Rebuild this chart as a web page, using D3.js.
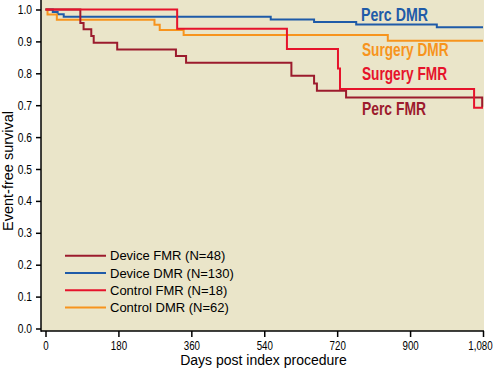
<!DOCTYPE html>
<html>
<head>
<meta charset="utf-8">
<script src="https://cdn.jsdelivr.net/npm/d3@7"></script>
<style>
    body { margin: 0; background: #fff; }
    svg { display: block; }
    .axis text { font-family: "Liberation Sans", Arial, sans-serif; font-size: 12.5px; fill: #000; }
    .axis line { stroke: #000; stroke-width: 1.5px; }
</style>
</head>
<body>
<div id="plot"></div>
<script>
const MAX_DAYS = 1080;

// step points: day of each drop and survival after it
const deviceFmrDays = [0, 86, 94, 113, 119, 177, 322, 347, 607, 663, 670, 742, 1078];
const deviceFmrSurv = [1, 0.958, 0.938, 0.917, 0.896, 0.875, 0.854, 0.833, 0.792, 0.768, 0.745, 0.724, 0.695];

const deviceDmrDays = [0, 18, 30, 45, 556, 663, 767, 966];
const deviceDmrSurv = [1, 0.992, 0.985, 0.977, 0.969, 0.961, 0.953, 0.944];

const controlFmrDays = [0, 325, 596, 722, 727, 1058];
const controlFmrSurv = [1, 0.940, 0.876, 0.815, 0.751, 0.692];

const controlDmrDays = [0, 5, 28, 269, 282, 341, 845];
const controlDmrSurv = [1, 0.984, 0.968, 0.952, 0.936, 0.920, 0.902];

const legendLabels = ['Device FMR (N=48)', 'Device DMR (N=130)', 'Control FMR (N=18)', 'Control DMR (N=62)'];
const curveLabels = ['Perc FMR', 'Perc DMR', 'Surgery FMR', 'Surgery DMR'];
const xTicks = [0, 180, 360, 540, 720, 900, 1080];
const yTicks = [0, 0.1, 0.2, 0.3, 0.4, 0.5, 0.6, 0.7, 0.8, 0.9, 1.0];

const colors = ['#9c1b2d', '#1f5ba8', '#e6132b', '#f7941d'];

let series = [
    {days: deviceFmrDays, surv: deviceFmrSurv},
    {days: deviceDmrDays, surv: deviceDmrSurv},
    {days: controlFmrDays, surv: controlFmrSurv},
    {days: controlDmrDays, surv: controlDmrSurv}
].map((s, i) => {
    let pts = s.days.map((d, j) => [d, s.surv[j]]);
    pts.push([MAX_DAYS, s.surv[s.surv.length - 1]]);
    return {pts: pts, color: colors[i], legend: legendLabels[i], label: curveLabels[i]};
});

let width = 493, height = 369;
let plotLeft = 41, plotRight = 484, plotTop = 0, plotBottom = 331;

// no narrow font installed, so squeeze a normal one horizontally
function narrow(sel, k) {
    sel.each(function () {
        let t = d3.select(this);
        let x0 = +t.attr('x') || 0;
        t.attr('x', x0 / k).attr('transform', 'scale(' + k + ',1)');
    });
}

let svg = d3.select('#plot').append('svg')
    .attr('width', width)
    .attr('height', height);

let x = d3.scaleLinear().domain([0, MAX_DAYS]).range([45.5, 483]);
let y = d3.scaleLinear().domain([0, 1]).range([328.5, 9.5]);

svg.append('rect')
    .attr('x', plotLeft).attr('y', plotTop)
    .attr('width', plotRight - plotLeft)
    .attr('height', plotBottom - plotTop)
    .attr('fill', '#eae5c9');

let gx = svg.append('g')
    .attr('class', 'axis')
    .attr('transform', 'translate(0,' + plotBottom + ')')
    .call(d3.axisBottom(x).tickValues(xTicks).tickFormat(d3.format(',')).tickSize(6).tickPadding(4));
gx.select('.domain').remove();
gx.selectAll('.tick').filter(d => d === MAX_DAYS).select('text').attr('x', -3);
gx.selectAll('text').call(narrow, 0.78);

let gy = svg.append('g')
    .attr('class', 'axis')
    .attr('transform', 'translate(' + plotLeft + ',0)')
    .call(d3.axisLeft(y).tickValues(yTicks).tickFormat(d3.format('.1f')).tickSize(5).tickPadding(4));
gy.select('.domain').remove();
gy.selectAll('text').call(narrow, 0.82);

// axis lines run the full plot box
svg.append('line')
    .attr('x1', plotLeft).attr('x2', plotLeft)
    .attr('y1', plotTop).attr('y2', plotBottom + 0.75)
    .attr('stroke', '#000').attr('stroke-width', 1.5);
svg.append('line')
    .attr('x1', plotLeft).attr('x2', plotRight)
    .attr('y1', plotBottom).attr('y2', plotBottom)
    .attr('stroke', '#000').attr('stroke-width', 1.5);

let line = d3.line()
    .x(d => x(d[0]))
    .y(d => y(d[1]))
    .curve(d3.curveStepAfter);

let drawOrder = [1, 3, 0, 2];
svg.append('g').selectAll('path')
    .data(drawOrder.map(i => series[i]))
    .join('path')
    .attr('fill', 'none')
    .attr('stroke', d => d.color)
    .attr('stroke-width', 2)
    .attr('d', d => line(d.pts));

// bold labels beside the curves
let labelPos = [
    {x: 362, y: 115, w: 64},
    {x: 361, y: 20.5, w: 67},
    {x: 362, y: 80, w: 85},
    {x: 362, y: 56, w: 86.5}
];
svg.append('g').selectAll('text')
    .data(series)
    .join('text')
    .attr('x', (d, i) => labelPos[i].x)
    .attr('y', (d, i) => labelPos[i].y)
    .attr('textLength', (d, i) => labelPos[i].w)
    .attr('lengthAdjust', 'spacingAndGlyphs')
    .attr('fill', d => d.color)
    .style('font-family', '"Liberation Sans", Arial, sans-serif')
    .style('font-weight', 'bold')
    .style('font-size', '19px')
    .text(d => d.label);

let legend = svg.append('g');
let rows = legend.selectAll('g')
    .data(series)
    .join('g')
    .attr('transform', (d, i) => 'translate(0,' + (255.7 + i * 17.3) + ')');
rows.append('line')
    .attr('x1', 65).attr('x2', 106)
    .attr('stroke', d => d.color)
    .attr('stroke-width', 2);
rows.append('text')
    .attr('x', 110)
    .attr('dy', '0.36em')
    .style('font-family', '"Liberation Sans", Arial, sans-serif')
    .style('font-size', '13px')
    .text(d => d.legend);

svg.append('text')
    .attr('x', (plotLeft + plotRight) / 2 + 1)
    .attr('y', 365)
    .attr('text-anchor', 'middle')
    .style('font-family', '"Liberation Sans", Arial, sans-serif')
    .style('font-size', '14px')
    .text('Days post index procedure');

svg.append('text')
    .attr('transform', 'translate(13,171) rotate(-90)')
    .attr('text-anchor', 'middle')
    .style('font-family', '"Liberation Sans", Arial, sans-serif')
    .style('font-size', '14.5px')
    .text('Event-free survival');
</script>
</body>
</html>
